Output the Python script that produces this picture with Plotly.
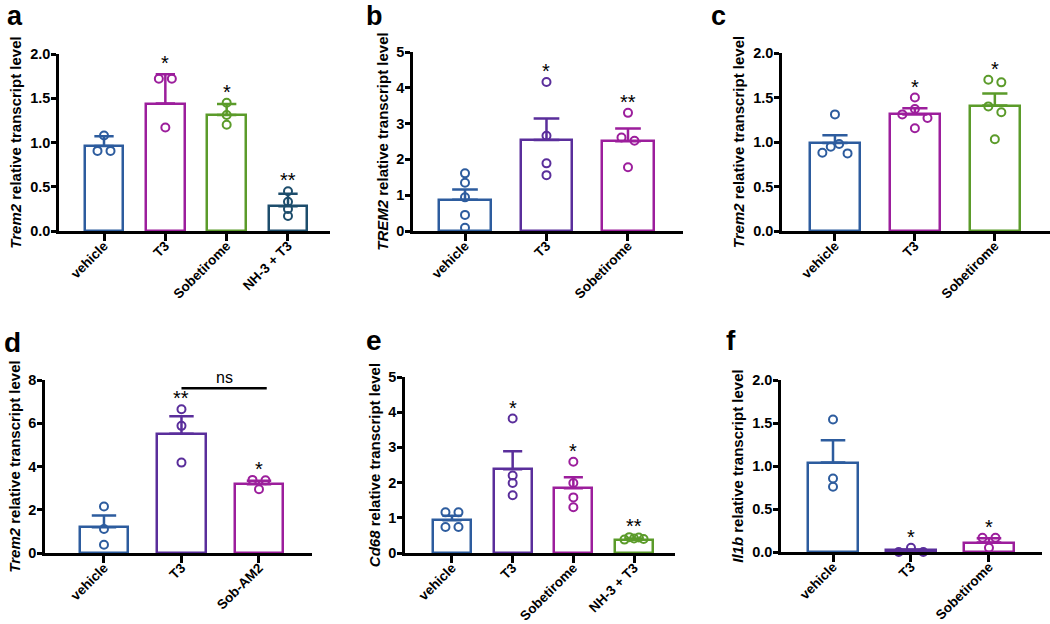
import plotly.graph_objects as go

W, H = 1050, 624

BLUE = "#2d5c9e"
MAGENTA = "#9c1e9c"
GREEN = "#5b9b2a"
INDIGO = "#5a2e9b"
TEAL = "#1d4d6c"
FONT = "Liberation Sans, Arial, sans-serif"

# ---- panel a ----
a_groups = ["vehicle", "T3", "Sobetirome", "NH-3 + T3"]
a_mean = [0.96, 1.44, 1.31, 0.28]
a_err = [0.11, 0.33, 0.125, 0.14]
a_points = [[1.08, 0.905, 0.905], [1.72, 1.72, 1.17], [1.45, 1.31, 1.20], [0.45, 0.33, 0.25, 0.17]]
a_sig = ["", "*", "*", "**"]

# ---- panel b ----
b_groups = ["vehicle", "T3", "Sobetirome"]
b_mean = [0.87, 2.54, 2.51]
b_err = [0.29, 0.60, 0.35]
b_points = [[1.61, 1.35, 0.94, 0.45, 0.09], [4.16, 2.66, 1.89, 1.56], [3.30, 2.61, 2.52, 1.78]]
b_sig = ["", "*", "**"]

# ---- panel c ----
c_groups = ["vehicle", "T3", "Sobetirome"]
c_mean = [0.99, 1.31, 1.41]
c_err = [0.085, 0.07, 0.135]
c_points = [[1.31, 0.88, 0.947, 0.977, 0.872], [1.50, 1.31, 1.37, 1.27, 1.154], [1.70, 1.67, 1.40, 1.335, 1.03]]
c_sig = ["", "*", "*"]

# ---- panel d ----
d_groups = ["vehicle", "T3", "Sob-AM2"]
d_mean = [1.19, 5.52, 3.18]
d_err = [0.54, 0.80, 0.16]
d_points = [[2.15, 1.11, 0.385], [6.65, 5.88, 4.18], [3.38, 3.36, 2.95]]
d_sig = ["", "**", "*"]
d_compare = (1, 2, "ns")

# ---- panel e ----
e_groups = ["vehicle", "T3", "Sobetirome", "NH-3 + T3"]
e_mean = [0.93, 2.38, 1.84, 0.38]
e_err = [0.13, 0.51, 0.31, 0.03]
e_points = [[1.155, 1.155, 0.74, 0.74], [3.82, 2.20, 1.99, 1.64], [2.59, 1.99, 1.58, 1.30], [0.38, 0.45, 0.41, 0.44, 0.40]]
e_sig = ["", "*", "*", "**"]

# ---- panel f ----
f_groups = ["vehicle", "T3", "Sobetirome"]
f_mean = [1.04, 0.02, 0.11]
f_err = [0.26, 0.01, 0.05]
f_points = [[1.54, 0.854, 0.758], [0.0, 0.05, 0.0], [0.165, 0.165, 0.05]]
f_sig = ["", "*", "*"]

panels = [
    dict(letter="a", groups=a_groups, mean=a_mean, err=a_err, points=a_points, sig=a_sig,
         colors=[BLUE, MAGENTA, GREEN, TEAL], gene="Trem2", ymax=2.0, dtick=0.5, fmt=".1f",
         box=(59, 330, 54, 231), xr=(-0.734, 3.685), lpos=(5, 22)),
    dict(letter="b", groups=b_groups, mean=b_mean, err=b_err, points=b_points, sig=b_sig,
         colors=[BLUE, INDIGO, MAGENTA], gene="TREM2", ymax=5, dtick=1, fmt="d",
         box=(413, 683, 52, 231), xr=(-0.638, 2.675), lpos=(364, 23)),
    dict(letter="c", groups=c_groups, mean=c_mean, err=c_err, points=c_points, sig=c_sig,
         colors=[BLUE, MAGENTA, GREEN], gene="Trem2", ymax=2.0, dtick=0.5, fmt=".1f",
         box=(782, 1050, 53, 231), xr=(-0.6625, 2.69), lpos=(709, 22)),
    dict(letter="d", groups=d_groups, mean=d_mean, err=d_err, points=d_points, sig=d_sig,
         colors=[BLUE, INDIGO, MAGENTA], gene="Trem2", ymax=8, dtick=2, fmt="d",
         box=(45, 312, 380, 553), xr=(-0.761, 2.684), lpos=(2, 355)),
    dict(letter="e", groups=e_groups, mean=e_mean, err=e_err, points=e_points, sig=e_sig,
         colors=[BLUE, INDIGO, MAGENTA, GREEN], gene="Cd68", ymax=5, dtick=1, fmt="d",
         box=(405, 675, 377, 553), xr=(-0.774, 3.675), lpos=(364, 353)),
    dict(letter="f", groups=f_groups, mean=f_mean, err=f_err, points=f_points, sig=f_sig,
         colors=[BLUE, INDIGO, MAGENTA], gene="Il1b", ymax=2.0, dtick=0.5, fmt=".1f",
         box=(781, 1042, 380, 552), xr=(-0.667, 2.68), lpos=(724, 353)),
]

BAR_W = 0.63


def swarm(values, px_y, px_x, bar_px):
    # spread points of near-equal value side by side, like a column scatter
    order = sorted(range(len(values)), key=lambda i: -values[i])
    clusters = []
    for i in order:
        if clusters and (values[clusters[-1][-1]] - values[i]) * px_y < 6.5:
            clusters[-1].append(i)
        else:
            clusters.append([i])
    offs = [0.0] * len(values)
    for cl in clusters:
        cl = sorted(cl)
        n = len(cl)
        if n == 1:
            continue
        span = min(13 * (n - 1), 0.5 * bar_px)
        for k, i in enumerate(cl):
            offs[i] = (-span / 2 + span * k / (n - 1)) / px_x
    return offs


fig = go.Figure()
annotations = []
shapes = []

for p_i, p in enumerate(panels):
    sfx = "" if p_i == 0 else str(p_i + 1)
    xa, ya = "x" + sfx, "y" + sfx
    xl, xr, yt, yb = p["box"]
    px_x = (xr - xl) / (p["xr"][1] - p["xr"][0])
    px_y = (yb - yt) / p["ymax"]
    n = len(p["groups"])
    idx = list(range(n))

    for g in idx:
        col = p["colors"][g]
        fig.add_trace(go.Bar(
            x=[g], y=[p["mean"][g]], width=BAR_W, xaxis=xa, yaxis=ya,
            marker=dict(color="white", line=dict(color=col, width=2.5)),
            error_y=dict(type="data", array=[p["err"][g]], arrayminus=[0], symmetric=False,
                         color=col, thickness=2.5, width=BAR_W * px_x / 4),
            showlegend=False, hoverinfo="skip"))
        vals = p["points"][g]
        offs = swarm(vals, px_y, px_x, BAR_W * px_x)
        fig.add_trace(go.Scatter(
            x=[g + o for o in offs], y=vals, mode="markers", xaxis=xa, yaxis=ya,
            marker=dict(symbol="circle-open", size=8, color=col, line=dict(width=2, color=col)),
            cliponaxis=False, showlegend=False, hoverinfo="skip"))
        if p["sig"][g]:
            top = max(p["mean"][g] + p["err"][g], max(vals))
            annotations.append(dict(x=g, y=top, xref=xa, yref=ya, text=p["sig"][g],
                                    showarrow=False, yanchor="middle", yshift=11,
                                    font=dict(family=FONT, size=20, color="black")))

    dom_x = [xl / W, xr / W]
    dom_y = [1 - yb / H, 1 - yt / H]
    fig.layout["xaxis" + sfx] = dict(
        domain=dom_x, anchor=ya, range=list(p["xr"]), tickvals=idx, ticktext=p["groups"],
        tickangle=-45, ticks="outside", ticklen=7, tickwidth=2.5, tickcolor="black",
        showline=True, linewidth=2.5, linecolor="black", showgrid=False, zeroline=False,
        automargin=False, ticklabelstandoff=-8,
        tickfont=dict(family=FONT, size=13.5, color="black", weight="bold"), fixedrange=True)
    fig.layout["yaxis" + sfx] = dict(
        domain=dom_y, anchor=xa, range=[0, p["ymax"]], dtick=p["dtick"], tickformat=p["fmt"],
        ticks="outside", ticklen=5, tickwidth=2.5, tickcolor="black",
        showline=True, linewidth=2.5, linecolor="black", showgrid=False, zeroline=False,
        automargin=False, ticklabelstandoff=-2,
        tickfont=dict(family=FONT, size=14.5, color="black", weight="bold"),
        title=dict(text="<i>" + p["gene"] + "</i> relative transcript level", standoff=5,
                   font=dict(family=FONT, size=15, color="black", weight="bold")),
        fixedrange=True)

    lx, ly = p["lpos"]
    if ly < 100:
        # top row: keep the label box inside the page
        annotations.append(dict(x=lx / W, y=1, xref="paper", yref="paper",
                                text=p["letter"], showarrow=False, xanchor="left", yanchor="top",
                                yshift=1,
                                font=dict(family=FONT, size=27, color="black", weight="bold")))
    else:
        annotations.append(dict(x=lx / W, y=1 - (ly + 5) / H, xref="paper", yref="paper",
                                text=p["letter"], showarrow=False, xanchor="left", yanchor="bottom",
                                font=dict(family=FONT, size=28, color="black", weight="bold")))

# comparison bracket in panel d
g0, g1, label = d_compare
px_y_d = (553 - 380) / 8
top_d = max(max(d_points[g0]), max(d_points[g1]), d_mean[g0] + d_err[g0], d_mean[g1] + d_err[g1])
y_br = top_d + 21 / px_y_d
shapes.append(dict(type="line", xref="x4", yref="y4", x0=g0, x1=g1 + 0.1, y0=y_br, y1=y_br,
                   line=dict(color="black", width=2.5)))
annotations.append(dict(x=(g0 + g1 + 0.1) / 2, y=y_br, xref="x4", yref="y4", text=label,
                        showarrow=False, yanchor="bottom", yshift=0,
                        font=dict(family=FONT, size=16, color="black")))

fig.update_layout(
    width=W, height=H, autosize=False,
    margin=dict(l=0, r=0, t=0, b=0),
    paper_bgcolor="white", plot_bgcolor="white",
    annotations=annotations, shapes=shapes, bargap=0,
    font=dict(family=FONT, color="black"))

fig.write_html("out.html", config={"displayModeBar": False},
               post_script="document.body.style.margin='0';")
